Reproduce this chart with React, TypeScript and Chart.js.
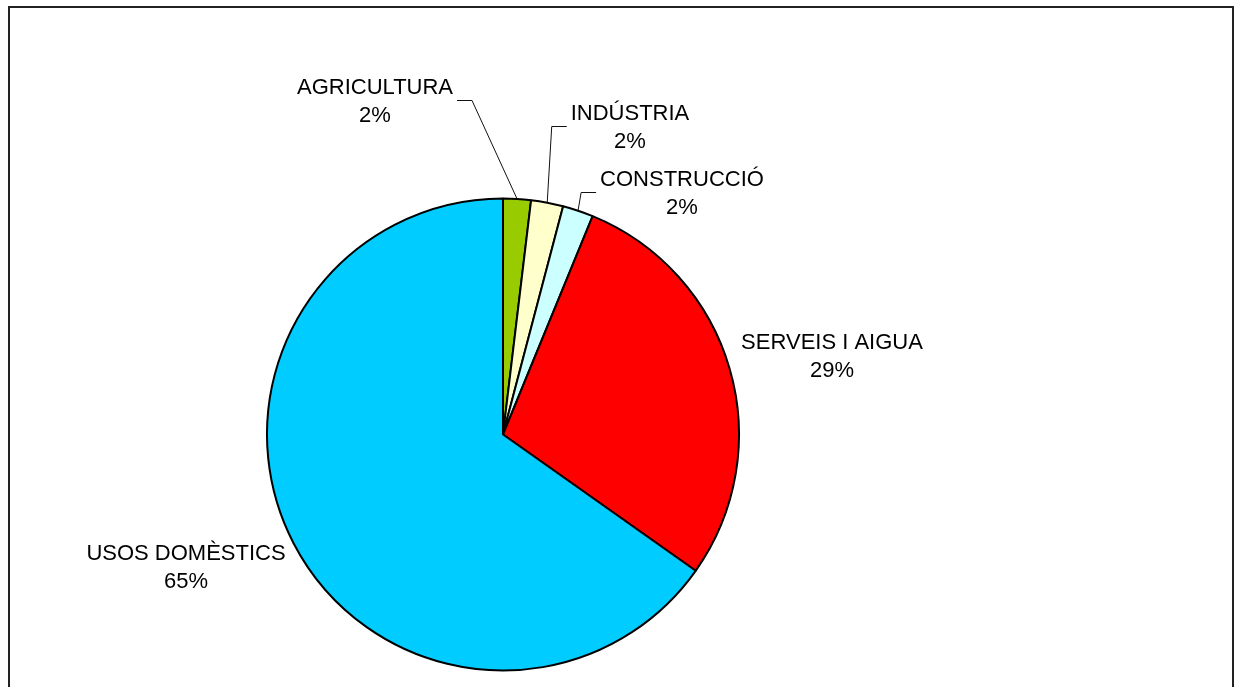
import React, { useEffect, useRef } from "react";
import { Chart, registerables } from "chart.js";

Chart.register(...registerables);

const categories = ["AGRICULTURA", "INDÚSTRIA", "CONSTRUCCIÓ", "SERVEIS I AIGUA", "USOS DOMÈSTICS"];
const values = [1.9, 2.2, 2.1, 28.6, 65.2];
const sliceColors = ["#99CC00", "#FFFFCC", "#CCFFFF", "#FF0000", "#00CCFF"];

// label block centres (layout) and leader line side
const labelX = [375, 630, 682, 832, 186];
const labelY = [100, 126, 192, 355, 566];
const leaderSide = [1, -1, -1, 0, 0];

const W = 1237;
const H = 687;
const FONT = '22px "Liberation Sans", Arial, sans-serif';

const labelPlugin = {
  id: "pieLabels",
  afterDraw(chart: any) {
    const ctx = chart.ctx as CanvasRenderingContext2D;
    const meta = chart.getDatasetMeta(0);
    const total = values.reduce((a, b) => a + b, 0);
    ctx.save();
    // frame
    ctx.strokeStyle = "#222";
    ctx.lineWidth = 2;
    ctx.strokeRect(9, 7, 1224, 700);
    ctx.font = FONT;
    ctx.fillStyle = "#000";
    ctx.textAlign = "center";
    ctx.textBaseline = "alphabetic";
    meta.data.forEach((arc: any, i: number) => {
      const p = arc.getProps(["x", "y", "startAngle", "endAngle", "outerRadius"], true);
      const mid = (p.startAngle + p.endAngle) / 2;
      const px = p.x + Math.cos(mid) * p.outerRadius;
      const py = p.y + Math.sin(mid) * p.outerRadius;
      const l1 = categories[i];
      const l2 = Math.round((values[i] / total) * 100) + "%";
      const cx = labelX[i];
      const cy = labelY[i];
      ctx.fillText(l1, cx, cy - 6);
      ctx.fillText(l2, cx, cy + 22);
      const dir = leaderSide[i];
      if (dir !== 0) {
        const w = Math.max(ctx.measureText(l1).width, ctx.measureText(l2).width);
        const sx = cx + dir * (w / 2 + 4);
        const hx = sx + dir * 15;
        ctx.strokeStyle = "#111";
        ctx.lineWidth = 1;
        ctx.beginPath();
        ctx.moveTo(sx, cy + 0.5);
        ctx.lineTo(hx, cy + 0.5);
        ctx.lineTo(px, py);
        ctx.stroke();
      }
    });
    ctx.restore();
  },
};

export default function App() {
  const ref = useRef<HTMLCanvasElement | null>(null);
  useEffect(() => {
    if (!ref.current) return;
    const chart = new Chart(ref.current, {
      type: "pie",
      data: {
        labels: categories,
        datasets: [
          {
            data: values,
            backgroundColor: sliceColors,
            borderColor: "#000",
            borderWidth: 2,
          },
        ],
      },
      options: {
        responsive: false,
        animation: false,
        events: [],
        radius: 236,
        layout: { padding: { left: 0, right: 231, top: 182, bottom: 0 } },
        plugins: {
          legend: { display: false },
          tooltip: { enabled: false },
        },
      } as any,
      plugins: [labelPlugin],
    });
    return () => chart.destroy();
  }, []);
  return (
    <div style={{ position: "fixed", left: 0, top: 0, width: W, height: H, background: "#fff" }}>
      <canvas ref={ref} width={W} height={H} style={{ display: "block" }} />
    </div>
  );
}
